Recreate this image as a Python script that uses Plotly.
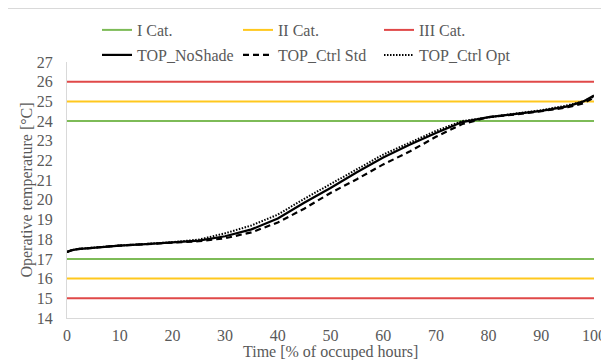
import plotly.graph_objects as go

# ---- data ----
time_pct = [0, 1, 2, 5, 10, 15, 20, 25, 30, 35, 40, 45, 50, 55, 60, 65, 70, 75, 80, 85, 90, 95, 98, 100]
top_noshade = [17.35, 17.45, 17.5, 17.58, 17.68, 17.75, 17.83, 17.93, 18.15, 18.5, 19.05, 19.85, 20.6, 21.4,
               22.15, 22.8, 23.4, 23.95, 24.2, 24.35, 24.52, 24.75, 25.0, 25.3]
top_ctrl_std = [17.35, 17.45, 17.5, 17.58, 17.68, 17.75, 17.82, 17.9, 18.05, 18.35, 18.85, 19.55, 20.35, 21.05,
                21.8, 22.45, 23.2, 23.85, 24.2, 24.33, 24.5, 24.7, 24.9, 25.2]
top_ctrl_opt = [17.35, 17.45, 17.5, 17.58, 17.68, 17.76, 17.85, 17.98, 18.3, 18.7, 19.25, 20.05, 20.8, 21.55,
                22.3, 22.9, 23.5, 24.0, 24.2, 24.38, 24.55, 24.8, 25.0, 25.25]

cat_names = ["I Cat.", "II Cat.", "III Cat."]
cat_lower = [17, 16, 15]
cat_upper = [24, 25, 26]
cat_colors = ["#7DBB57", "#FFC81E", "#E04848"]

x_range = [0, 100]
y_range = [14, 27]
x_ticks = list(range(0, 101, 10))
y_ticks = list(range(14, 28))

FONT = "'Liberation Serif', 'Times New Roman', Times, serif"
TXT = "#595959"

fig = go.Figure()

for name, lo, hi, col in zip(cat_names, cat_lower, cat_upper, cat_colors):
    fig.add_trace(go.Scatter(
        x=[x_range[0], x_range[1], None, x_range[0], x_range[1]],
        y=[hi, hi, None, lo, lo],
        mode="lines", name=name, line=dict(color=col, width=2),
        legend="legend", hoverinfo="skip"))

fig.add_trace(go.Scatter(x=time_pct, y=top_noshade, mode="lines", name="TOP_NoShade",
                         line=dict(color="black", width=2.2), legend="legend2"))
fig.add_trace(go.Scatter(x=time_pct, y=top_ctrl_std, mode="lines", name="TOP_Ctrl Std",
                         line=dict(color="black", width=2.2, dash="6px,4px"), legend="legend2"))
fig.add_trace(go.Scatter(x=time_pct, y=top_ctrl_opt, mode="lines", name="TOP_Ctrl Opt",
                         line=dict(color="black", width=2, dash="1.5px,1.5px"), legend="legend2"))

# page body has an 8px default margin; work in window pixels and compensate
OFF = 8
WIN_W, WIN_H = 609, 360
W, H = WIN_W - OFF, WIN_H - OFF
plot_l, plot_r, plot_t, plot_b = 67, 594, 62, 318  # window pixels of the axes box
paper_top = OFF                                      # paper reaches the figure top
ml, mr, mt, mb = plot_l - OFF, WIN_W - plot_r, paper_top - OFF, WIN_H - plot_b
pw = plot_r - plot_l
paper_h = plot_b - paper_top
y_domain_top = (plot_b - plot_t) / paper_h

def px_x(p):
    return (p - plot_l) / pw

def px_y(p):
    return (plot_b - p) / paper_h

legend_common = dict(orientation="h", xanchor="left", yanchor="middle",
                     font=dict(family=FONT, size=16, color=TXT),
                     entrywidth=96, entrywidthmode="pixels",
                     bgcolor="rgba(0,0,0,0)", itemwidth=30, tracegroupgap=0)

fig.update_layout(
    width=W, height=H,
    margin=dict(l=ml, r=mr, t=mt, b=mb),
    paper_bgcolor="white", plot_bgcolor="white",
    font=dict(family=FONT, size=16, color=TXT),
    showlegend=True,
    legend=dict(x=px_x(97), y=px_y(30), **legend_common),
    legend2=dict(x=px_x(97), y=px_y(55), **legend_common),
    xaxis=dict(range=x_range, tickvals=x_ticks, showgrid=False, zeroline=False,
               showline=True, linecolor="#D9D9D9", linewidth=1, ticks="",
               automargin=False, ticklabelstandoff=3,
               tickfont=dict(family=FONT, size=16, color=TXT)),
    yaxis=dict(range=y_range, tickvals=y_ticks, showgrid=False, zeroline=False,
               domain=[0, y_domain_top],
               showline=True, linecolor="#D9D9D9", linewidth=1, ticks="",
               automargin=False, ticklabelstandoff=10,
               tickfont=dict(family=FONT, size=16, color=TXT),
               title=dict(text="Operative temperature [°C]", standoff=0,
                          font=dict(family=FONT, size=16, color=TXT))),
    annotations=[dict(text="Time [% of occuped hours]", xref="paper", yref="paper",
                      x=0.5, y=px_y(352), xanchor="center", yanchor="middle",
                      showarrow=False, font=dict(family=FONT, size=16, color=TXT))],
    shapes=[dict(type="rect", xref="paper", yref="paper",
                 x0=px_x(5), x1=px_x(615), y0=px_y(366), y1=px_y(8.5),
                 line=dict(color="#D9D9D9", width=1), fillcolor="rgba(0,0,0,0)", layer="below")],
)

fig.write_html("out.html")
